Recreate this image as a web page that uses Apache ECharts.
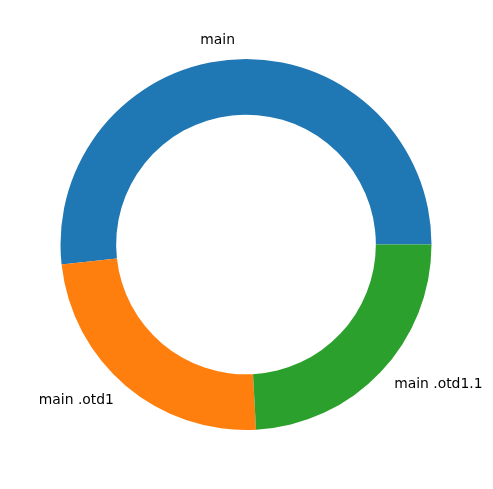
<!DOCTYPE html>
<html>
<head>
<meta charset="utf-8">
<script src="https://cdn.jsdelivr.net/npm/echarts@6/dist/echarts.min.js"></script>
<style>
html,body{margin:0;padding:0;background:#fff;}
#chart{width:493px;height:489px;}
</style>
</head>
<body>
<div id="chart"></div>
<script>
const categories = ['main', 'main .otd1', 'main .otd1.1'];
const values = [15, 7, 7];
const colors = ['#1f77b4', '#ff7f0e', '#2ca02c'];

const chart = echarts.init(document.getElementById('chart'), null, {renderer: 'canvas'});
const outerR = 185.5;
chart.setOption({
  animation: false,
  backgroundColor: '#ffffff',
  series: [{
    type: 'pie',
    center: [246, 244.5],
    radius: [outerR * 0.7, outerR],
    startAngle: 0,
    clockwise: false,
    avoidLabelOverlap: false,
    minShowLabelAngle: 0,
    itemStyle: {borderWidth: 0},
    emphasis: {disabled: true},
    label: {
      show: true,
      position: 'outside',
      color: '#000000',
      fontFamily: 'DejaVu Sans',
      fontSize: 13.9,
      distanceToLabelLine: 0
    },
    labelLine: {show: false, length: outerR * 0.1, length2: 0},
    data: categories.map((c, i) => ({name: c, value: values[i], itemStyle: {color: colors[i]}}))
  }]
});
</script>
</body>
</html>
